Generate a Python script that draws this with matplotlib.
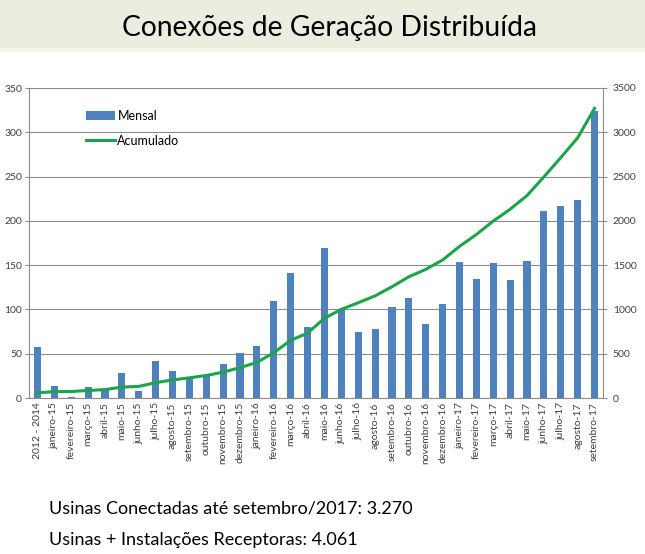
import matplotlib.pyplot as plt
import numpy as np
from matplotlib.patches import Rectangle

categories = [
    "2012 - 2014",
    "janeiro-15", "fevereiro-15", "março-15", "abril-15", "maio-15", "junho-15",
    "julho-15", "agosto-15", "setembro-15", "outubro-15", "novembro-15", "dezembro-15",
    "janeiro-16", "fevereiro-16", "março-16", "abril-16", "maio-16", "junho-16",
    "julho-16", "agosto-16", "setembro-16", "outubro-16", "novembro-16", "dezembro-16",
    "janeiro-17", "fevereiro-17", "março-17", "abril-17", "maio-17", "junho-17",
    "julho-17", "agosto-17", "setembro-17",
]
mensal = [
    58,
    14, 1, 12, 10, 28, 8, 42, 31, 24, 26, 38, 51,
    59, 109, 141, 80, 169, 100, 74, 78, 103, 113, 83, 106,
    154, 134, 152, 133, 155, 211, 217, 224, 324,
]
acumulado = [
    58,
    72, 73, 85, 95, 123, 131, 173, 204, 228, 254, 292, 343,
    402, 511, 652, 732, 901, 1001, 1075, 1153, 1256, 1369, 1452, 1558,
    1712, 1846, 1998, 2131, 2286, 2497, 2714, 2938, 3270,
]
left_ticks = [0, 50, 100, 150, 200, 250, 300, 350]
right_ticks = [0, 500, 1000, 1500, 2000, 2500, 3000, 3500]

TITLE = "Conexões de Geração Distribuída"
NOTES = [
    "Usinas Conectadas até setembro/2017: 3.270",
    "Usinas + Instalações Receptoras: 4.061",
]

BAR_COLOR = "#4F81BD"
LINE_COLOR = "#1AA54B"
GRID_COLOR = "#8C8C8C"
TEXT_COLOR = "#404040"

plt.rcParams["font.family"] = ["Lato", "DejaVu Sans"]

W, H = 645, 554
fig = plt.figure(figsize=(W / 100, H / 100), dpi=100)

# title band
fig.patches.append(Rectangle((0, 1 - 48 / H), 1, 48 / H, transform=fig.transFigure,
                             facecolor="#EAEEE0", edgecolor="none", zorder=0))
fig.patches.append(Rectangle((0, 1 - 52 / H), 1, 4 / H, transform=fig.transFigure,
                             facecolor="#F3F5EC", edgecolor="none", zorder=0))
fig.text(330 / W, 1 - 36 / H, TITLE, ha="center", va="baseline", fontsize=20.3,
         color="black")

ax = fig.add_axes([29 / W, 1 - 398 / H, 574 / W, 310 / H])
x = np.arange(len(categories))
bars = ax.bar(x, mensal, width=0.42, color=BAR_COLOR, label="Mensal", zorder=2)
ax.set_xlim(-0.5, len(categories) - 0.5)
ax.set_ylim(0, 350)
ax.set_yticks(left_ticks)
ax.grid(axis="y", color=GRID_COLOR, linewidth=0.8, zorder=0)
ax.set_axisbelow(True)
ax.set_xticks(x)
ax.set_xticklabels(categories, rotation=90, fontsize=7.5, color=TEXT_COLOR)
ax.tick_params(axis="x", length=0, pad=3)
ax.tick_params(axis="y", labelsize=7.5, colors=TEXT_COLOR, length=3, color=GRID_COLOR, pad=2)
for side in ("top", "right"):
    ax.spines[side].set_visible(False)
for side in ("left", "bottom"):
    ax.spines[side].set_color(GRID_COLOR)

ax2 = ax.twinx()
line, = ax2.plot(x, acumulado, color=LINE_COLOR, linewidth=2.2, label="Acumulado", zorder=3)
ax2.set_ylim(0, 3500)
ax2.set_yticks(right_ticks)
ax2.tick_params(axis="y", labelsize=7.5, colors=TEXT_COLOR, length=3, color=GRID_COLOR, pad=4)
for side in ("top", "left", "bottom"):
    ax2.spines[side].set_visible(False)
ax2.spines["right"].set_color(GRID_COLOR)

ax2.legend([bars, line], ["Mensal", "Acumulado"], loc="upper left",
           bbox_to_anchor=(0.08, 0.965), frameon=False, fontsize=9,
           handlelength=2.3, labelspacing=1.0, handletextpad=0.2)

for i, note in enumerate(NOTES):
    fig.text(49 / W, 1 - (513 + 32 * i) / H, note, ha="left", va="baseline",
             fontsize=13, color="black")

fig.savefig("out.png", dpi=100)
